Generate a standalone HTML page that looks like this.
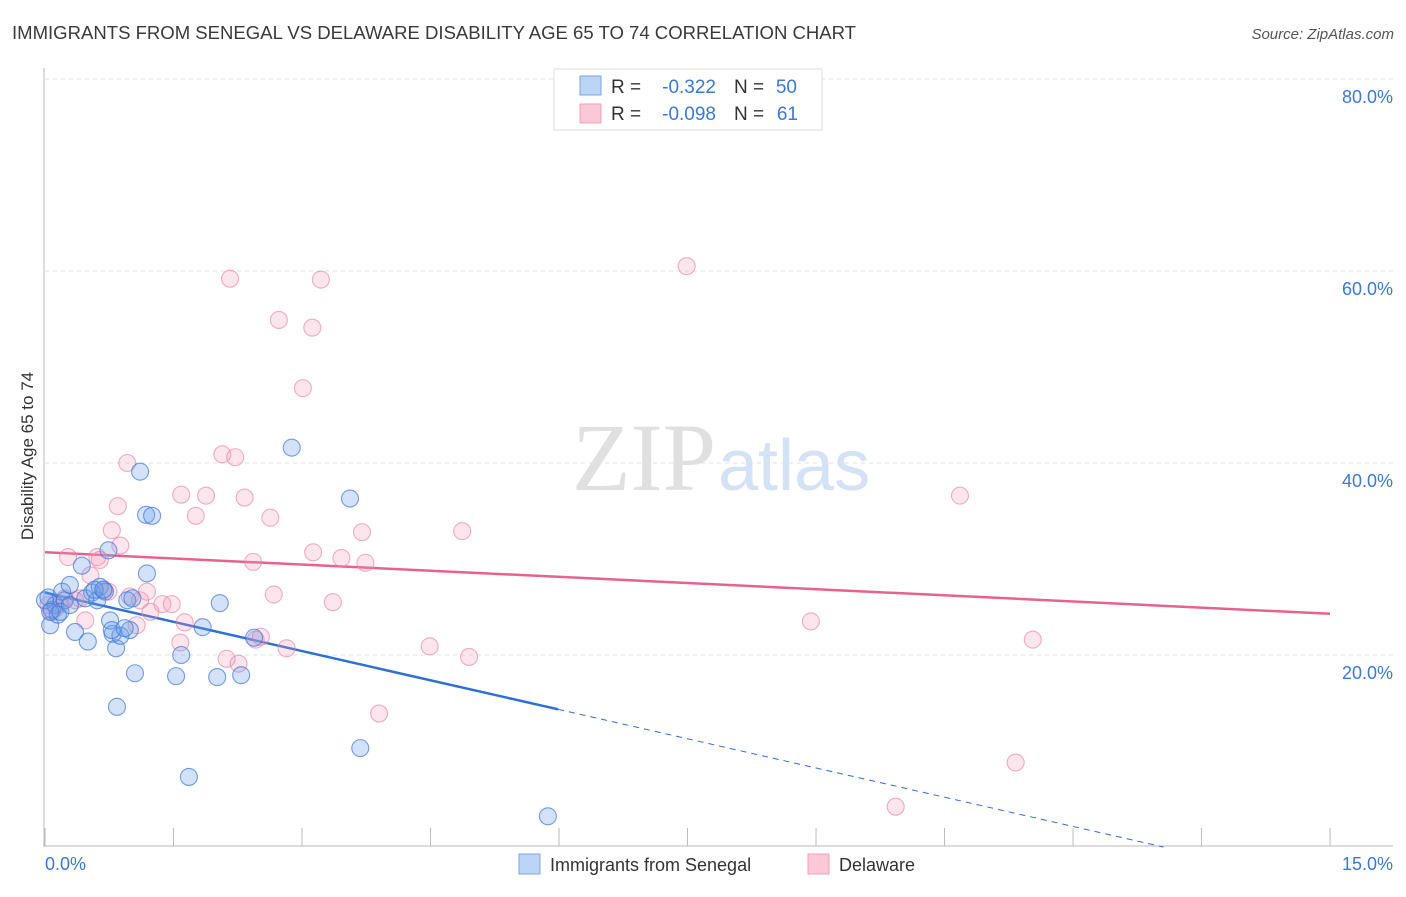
<!DOCTYPE html>
<html><head><meta charset="utf-8"><style>
body{margin:0;background:#fff;font-family:"Liberation Sans",sans-serif}
</style></head><body>
<svg width="1406" height="892" xmlns="http://www.w3.org/2000/svg" font-family="Liberation Sans, sans-serif">
<text x="12" y="39" font-size="18" fill="#3a3a3a" textLength="844" lengthAdjust="spacingAndGlyphs">IMMIGRANTS FROM SENEGAL VS DELAWARE DISABILITY AGE 65 TO 74 CORRELATION CHART</text>
<text x="1394" y="39" font-size="15" fill="#555" font-style="italic" text-anchor="end">Source: ZipAtlas.com</text>
<g id="grid"></g>
<text x="716" y="490" font-size="96" fill="#e0e0e0" text-anchor="end" font-family="Liberation Serif, serif">ZIP</text>
<text x="718" y="490" font-size="72" fill="#d3e2f5">atlas</text>
<g id="lines"></g>
<g id="pts"></g>
<text transform="translate(33,456) rotate(-90)" font-size="17" fill="#333" text-anchor="middle">Disability Age 65 to 74</text>
<text x="45" y="870" font-size="18" fill="#3b78d8">0.0%</text>
<text x="1393" y="870" font-size="18" fill="#3b78d8" text-anchor="end">15.0%</text>
<g>
<rect x="554" y="69" width="268" height="61" fill="#fff" stroke="#ddd"/>
<rect x="580" y="76" width="21" height="19" fill="#bcd4f5" stroke="#7aa6e6"/>
<rect x="580" y="104" width="21" height="19" fill="#fcc8d8" stroke="#f0a0b8"/>
<text x="611" y="93" font-size="19" fill="#333">R =</text>
<text x="716" y="93" font-size="19" fill="#3b78d8" text-anchor="end">-0.322</text>
<text x="734" y="93" font-size="19" fill="#333">N =</text>
<text x="797" y="93" font-size="19" fill="#3b78d8" text-anchor="end">50</text>
<text x="611" y="120" font-size="19" fill="#333">R =</text>
<text x="716" y="120" font-size="19" fill="#3b78d8" text-anchor="end">-0.098</text>
<text x="734" y="120" font-size="19" fill="#333">N =</text>
<text x="798" y="120" font-size="19" fill="#3b78d8" text-anchor="end">61</text>
</g>
<g>
<rect x="519" y="854" width="21" height="20" fill="#bcd4f5" stroke="#7aa6e6"/>
<text x="550" y="871" font-size="18" fill="#333">Immigrants from Senegal</text>
<rect x="808" y="854" width="21" height="20" fill="#fcc8d8" stroke="#f0a0b8"/>
<text x="839" y="871" font-size="18" fill="#333">Delaware</text>
</g>
</svg>
<script>
const yTicks=[20,40,60,80];
const xTicks=[0,1.5,3,4.5,6,7.5,9,10.5,12,13.5,15];
const blueX=[0.04,0.06,0.08,0.12,0.15,0.20,0.23,0.29,0.35,0.43,0.50,0.55,0.61,0.64,0.70,0.74,0.76,0.79,0.83,0.84,0.88,0.96,0.99,1.02,1.05,1.11,1.18,1.19,1.25,1.53,1.59,1.68,1.84,2.01,2.04,2.29,2.44,2.88,3.56,3.68,5.87,0.0,0.06,0.18,0.29,0.47,0.58,0.68,0.78,0.93];
const blueY=[26.0,23.1,24.7,25.2,24.2,26.6,25.7,27.3,22.4,29.3,21.4,26.5,25.7,27.1,26.6,30.9,23.6,22.2,20.7,14.6,22.0,25.7,22.6,25.9,18.1,39.1,34.6,28.5,34.5,17.8,20.0,7.3,22.9,17.7,25.4,17.9,21.8,41.6,36.3,10.3,3.2,25.7,24.5,24.5,25.2,25.9,26.8,26.8,22.6,22.8];
const pinkX=[0.04,0.08,0.13,0.18,0.23,0.27,0.35,0.41,0.47,0.53,0.61,0.64,0.69,0.74,0.78,0.85,0.88,0.96,0.99,1.07,1.11,1.19,1.23,1.37,1.48,1.58,1.59,1.63,1.76,1.88,2.07,2.12,2.16,2.22,2.26,2.33,2.43,2.46,2.52,2.63,2.67,2.73,2.82,3.01,3.12,3.13,3.22,3.36,3.46,3.70,3.74,3.90,4.49,4.87,4.95,7.49,8.94,9.93,10.68,11.33,11.53];
const pinkY=[25.2,24.5,24.9,25.3,25.9,30.2,25.7,25.9,23.6,28.3,30.2,29.9,26.8,26.6,33.0,35.5,31.4,40.0,26.1,23.1,25.7,26.6,24.5,25.3,25.3,21.3,36.7,23.4,34.5,36.6,40.9,19.6,59.2,40.6,19.1,36.4,29.7,21.6,21.9,34.3,26.3,54.9,20.7,47.8,54.1,30.7,59.1,25.5,30.1,32.8,29.6,13.9,20.9,32.9,19.8,60.5,23.5,4.2,36.6,8.8,21.6];
const blueTrend=[26.5,-2.03];
const pinkTrend=[30.7,-0.427];
const NS='http://www.w3.org/2000/svg';
const X=v=>45+v*85.67, Y=v=>847-v*9.6;
function mk(t,a,p){const e=document.createElementNS(NS,t);for(const k in a)e.setAttribute(k,a[k]);p.appendChild(e);return e;}
const grid=document.getElementById('grid');
yTicks.forEach(t=>{
 const l=mk('line',{x1:45,x2:1393,y1:Y(t),y2:Y(t),stroke:'#e2e2e2','stroke-dasharray':'4,4'},grid);
 
 
 const tx=mk('text',{x:1393,y:Y(t)+24,'font-size':18,fill:'#3b78d8','text-anchor':'end'},grid);
 tx.textContent=t.toFixed(1)+'%';
 
 
});
const ax=mk('line',{x1:44,x2:44,y1:68,y2:847,stroke:'#bbb'},grid);


const bx=mk('line',{x1:44,x2:1393,y1:846,y2:846,stroke:'#bbb'},grid);


xTicks.forEach(t=>{
 const l=mk('line',{x1:X(t),x2:X(t),y1:828,y2:846,stroke:'#bbb'},grid);
 
 
});
const pts=document.getElementById('pts');
function draw(xs,ys,fill,stroke,name){xs.forEach((x,i)=>{
 const c=mk('circle',{cx:X(x),cy:Y(ys[i]),r:8.5,fill:fill,stroke:stroke,'stroke-width':1.1},pts);
 
 
});}
draw(pinkX,pinkY,'rgba(245,150,180,0.25)','rgba(235,130,165,0.65)','delaware-point');
draw(blueX,blueY,'rgba(110,160,235,0.3)','rgba(60,120,220,0.7)','senegal-point');
const lines=document.getElementById('lines');
const bEnd=5.99, bZero=-blueTrend[0]/blueTrend[1];
const l1=mk('line',{x1:X(0),y1:Y(blueTrend[0]),x2:X(bEnd),y2:Y(blueTrend[0]+blueTrend[1]*bEnd),stroke:'#2e6fd8','stroke-width':2.5},lines);


const l2=mk('line',{x1:X(bEnd),y1:Y(blueTrend[0]+blueTrend[1]*bEnd),x2:X(bZero),y2:Y(0),stroke:'#2e6fd8','stroke-width':1,'stroke-dasharray':'6,5'},lines);


const l3=mk('line',{x1:X(0),y1:Y(pinkTrend[0]),x2:X(15),y2:Y(pinkTrend[0]+pinkTrend[1]*15),stroke:'#e8628e','stroke-width':2.5},lines);


</script>
</body></html>
